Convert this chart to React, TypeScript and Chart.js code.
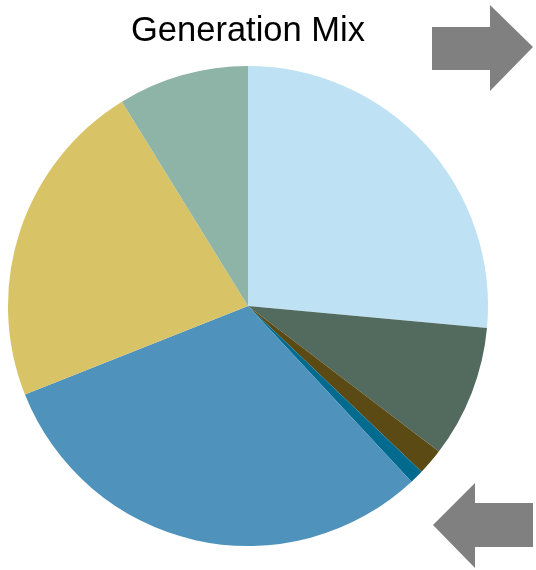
import React, { useEffect, useRef } from "react";
import { Chart, registerables } from "chart.js";

Chart.register(...registerables);

const categories = ["Source A", "Source B", "Source C", "Source D", "Source E", "Source F", "Source G"];
const shares = [26.45, 8.9, 1.76, 0.94, 30.9, 22.2, 8.8];
const sliceColors = ["#BEE2F3", "#536A5E", "#5B4A14", "#006B8F", "#4F92BC", "#D9C367", "#8DB4A6"];
const titleText = "Generation Mix";

const arrowsPlugin = {
  id: "arrows",
  afterDraw(chart: any) {
    const ctx = chart.ctx;
    ctx.save();
    ctx.fillStyle = "#808080";
    // right-pointing arrow (top right)
    ctx.beginPath();
    ctx.moveTo(432, 27);
    ctx.lineTo(490, 27);
    ctx.lineTo(490, 5);
    ctx.lineTo(533, 47);
    ctx.lineTo(490, 91);
    ctx.lineTo(490, 70);
    ctx.lineTo(432, 70);
    ctx.closePath();
    ctx.fill();
    // left-pointing arrow (bottom right)
    ctx.beginPath();
    ctx.moveTo(533, 503);
    ctx.lineTo(475, 503);
    ctx.lineTo(475, 483);
    ctx.lineTo(433, 525);
    ctx.lineTo(475, 568);
    ctx.lineTo(475, 547);
    ctx.lineTo(533, 547);
    ctx.closePath();
    ctx.fill();
    ctx.restore();
  },
};

export default function App() {
  const ref = useRef<HTMLCanvasElement | null>(null);
  useEffect(() => {
    if (!ref.current) return;
    const chart = new Chart(ref.current, {
      type: "pie",
      data: {
        labels: categories,
        datasets: [
          {
            data: shares,
            backgroundColor: sliceColors,
            borderWidth: 0,
          },
        ],
      },
      options: {
        animation: false,
        responsive: false,
        layout: { padding: { left: 8, right: 48, top: 0, bottom: 24 } },
        plugins: {
          legend: { display: false },
          tooltip: { enabled: false },
          title: {
            display: true,
            text: titleText,
            color: "#000000",
            font: { family: "Liberation Sans, Arial, sans-serif", size: 34.5, weight: "normal" },
            padding: { top: 10.3, bottom: 14.3 },
          },
        },
      },
      plugins: [arrowsPlugin],
    });
    return () => chart.destroy();
  }, []);
  return (
    <div style={{ position: "fixed", left: 0, top: 0, width: 536, height: 570, background: "#fff" }}>
      <canvas ref={ref} width={536} height={570} />
    </div>
  );
}
